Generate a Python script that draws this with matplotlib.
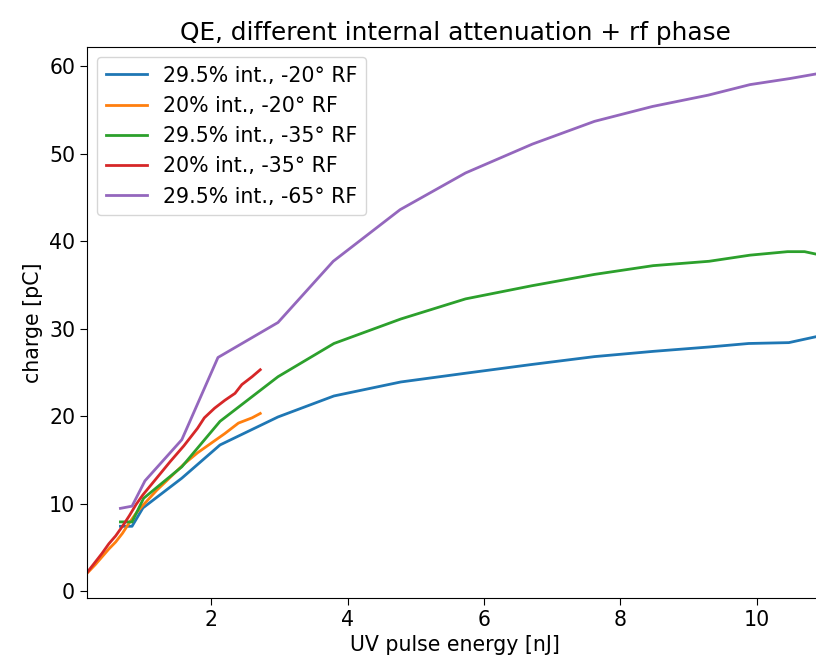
import numpy as np
import matplotlib
matplotlib.use("Agg")
import matplotlib.pyplot as plt

# values
x_blue = [0.67, 0.84, 1.0, 1.57, 2.13, 2.98, 3.8, 4.78, 5.73, 6.7, 7.62, 8.48, 9.3, 9.88, 10.47, 11.0]
y_blue = [7.4, 7.4, 9.5, 12.9, 16.7, 19.9, 22.3, 23.9, 24.9, 25.9, 26.8, 27.4, 27.9, 28.3, 28.4, 29.3]

x_orange = [0.19, 0.3, 0.4, 0.5, 0.6, 0.7, 0.8, 0.9, 1.0, 1.2, 1.4, 1.6, 1.8, 2.0, 2.2, 2.4, 2.6, 2.72]
y_orange = [2.1, 3.0, 3.9, 4.8, 5.6, 6.6, 7.8, 8.9, 9.8, 11.5, 13.0, 14.5, 15.8, 16.9, 18.0, 19.2, 19.8, 20.3]

x_green = [0.67, 0.84, 1.01, 1.57, 2.13, 2.98, 3.8, 4.78, 5.73, 6.7, 7.62, 8.48, 9.3, 9.9, 10.45, 10.7, 11.0]
y_green = [7.9, 7.9, 10.6, 14.2, 19.4, 24.5, 28.3, 31.1, 33.4, 34.9, 36.2, 37.2, 37.7, 38.4, 38.8, 38.8, 38.3]

x_red = [0.19, 0.3, 0.4, 0.5, 0.6, 0.7, 0.8, 0.9, 1.0, 1.2, 1.4, 1.6, 1.8, 1.9, 2.05, 2.2, 2.35, 2.45, 2.6, 2.72]
y_red = [2.2, 3.3, 4.3, 5.4, 6.3, 7.4, 8.6, 9.9, 11.0, 12.9, 14.8, 16.6, 18.6, 19.8, 20.9, 21.8, 22.6, 23.6, 24.5, 25.3]

x_purple = [0.67, 0.84, 1.03, 1.57, 2.1, 2.98, 3.79, 4.77, 5.73, 6.71, 7.62, 8.47, 9.29, 9.9, 10.49, 11.0]
y_purple = [9.45, 9.7, 12.6, 17.3, 26.7, 30.7, 37.7, 43.6, 47.8, 51.1, 53.7, 55.4, 56.7, 57.9, 58.6, 59.3]

labels = ["29.5% int., -20° RF", "20% int., -20° RF", "29.5% int., -35° RF",
          "20% int., -35° RF", "29.5% int., -65° RF"]

fig = plt.figure(figsize=(8.16, 6.63), dpi=100)
# right spine sits just past the cropped edge of the reference
ax = fig.add_axes([87 / 816, 65 / 663, 736 / 816, 551 / 663])

ax.plot(x_blue, y_blue, color="tab:blue", lw=2, label=labels[0])
ax.plot(x_orange, y_orange, color="tab:orange", lw=2, label=labels[1])
ax.plot(x_green, y_green, color="tab:green", lw=2, label=labels[2])
ax.plot(x_red, y_red, color="tab:red", lw=2, label=labels[3])
ax.plot(x_purple, y_purple, color="tab:purple", lw=2, label=labels[4])

ax.set_xlim(0.18, 10.97)
ax.set_ylim(-0.8, 62.2)
ax.set_xticks([2, 4, 6, 8, 10])
ax.tick_params(labelsize=14.8, length=5)
ax.set_xlabel("UV pulse energy [nJ]", fontsize=14.8)
ax.set_ylabel("charge [pC]", fontsize=14.8)
ax.set_title("QE, different internal attenuation + rf phase", fontsize=17.8, pad=5)
ax.legend(loc="upper left", fontsize=14.8)

fig.savefig("out.png", dpi=100)
